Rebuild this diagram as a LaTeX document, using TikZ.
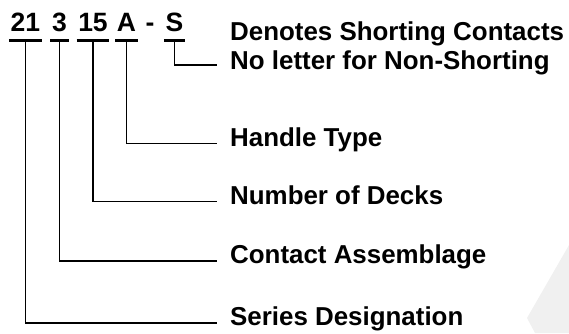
\documentclass[tikz,border=0pt]{standalone}
\usepackage{fontspec}
\setmainfont{Liberation Sans}

\tikzset{
	code/.style={font=\fontsize{26.5}{30}\selectfont\bfseries, inner xsep=1.5pt, inner ysep=0pt, text depth=0pt, anchor=base},
	label/.style={font=\fontsize{25.9}{29.3}\selectfont\bfseries, inner sep=0pt, text height=0.72em, text depth=0.2em, anchor=west, align=left},
	bar/.style={line width=3pt},
	lead/.style={line width=1.6pt}
}

\begin{document}
\begin{tikzpicture}[x=1pt,y=-1pt]

	\useasboundingbox (0,0) rectangle (569,333);
	\fill[black!6] (569,245) -- (527,318) -- (535,333) -- (569,333) -- cycle;

	% code
	\node[code] (c21) at (25.3,31.7) {21};
	\node[code] (c3) at (59.5,31.7) {3};
	\node[code] (c15) at (93,31.7) {15};
	\node[code] (cA) at (126.5,31.7) {A};
	\node[code] (dash) at (150,31.7) {-};
	\node[code] (cS) at (174.5,31.7) {S};

	% labels
	\node[label] (note) at (230,67) {Denotes Shorting Contacts\\No letter for Non-Shorting};
	\node[label] (handle) at (230,143.5) {Handle Type};
	\node[label] (decks) at (230,201.5) {Number of Decks};
	\node[label] (contact) at (230,261) {Contact Assemblage};
	\node[label] (series) at (230,322.7) {Series Designation};

	% underlines
	\draw[bar] ([yshift=-9pt]c21.south west) -- coordinate (u21) ([yshift=-9pt]c21.south east);
	\draw[bar] ([yshift=-9pt]c3.south west) -- coordinate (u3) ([yshift=-9pt]c3.south east);
	\draw[bar] ([yshift=-9pt]c15.south west) -- coordinate (u15) ([yshift=-9pt]c15.south east);
	\draw[bar] ([yshift=-9pt]cA.south west) -- coordinate (uA) ([yshift=-9pt]cA.south east);
	\draw[bar] ([yshift=-9pt]cS.south west) -- coordinate (uS) ([yshift=-9pt]cS.south east);

	% leads
	\draw[lead] (uS) |- ([xshift=-13pt,yshift=2pt]note.west);
	\draw[lead] (uA) |- ([xshift=-13pt]handle.west);
	\draw[lead] (u15) |- ([xshift=-13pt]decks.west);
	\draw[lead] (u3) |- ([xshift=-13pt]contact.west);
	\draw[lead] (u21) |- ([xshift=-13pt]series.west);

\end{tikzpicture}
\end{document}
